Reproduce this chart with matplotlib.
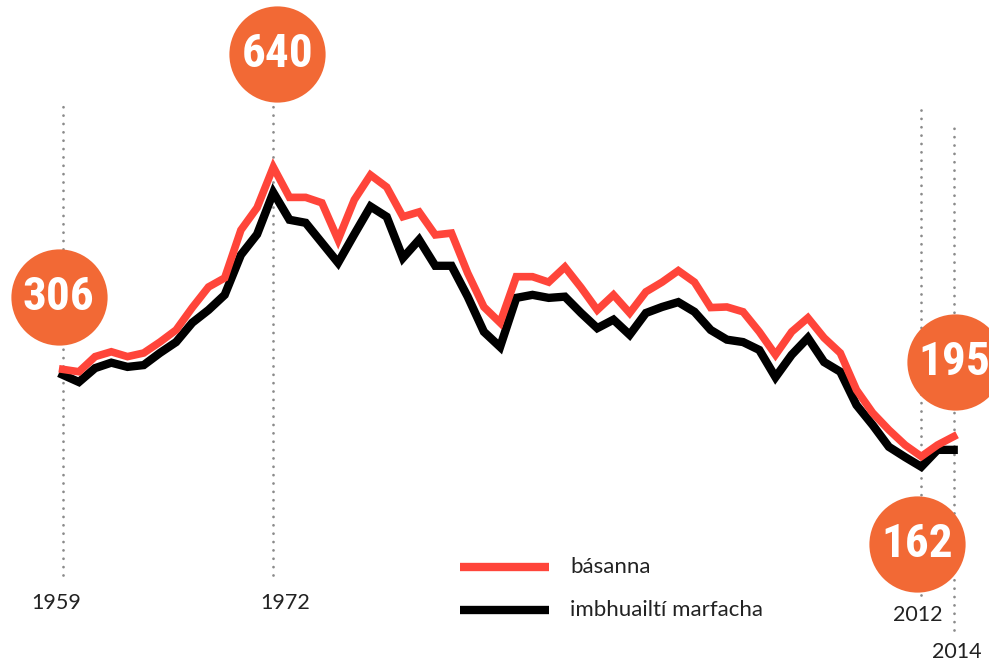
import matplotlib
matplotlib.use('Agg')
import matplotlib.pyplot as plt
from matplotlib.transforms import offset_copy
from matplotlib import font_manager
import numpy as np

years = list(range(1959, 2015))

# básanna (deaths)
deaths = [306, 302, 327, 335, 327, 333, 351, 371, 408, 442,
          457, 536, 573, 640, 590, 590, 581, 520, 586, 627,
          607, 558, 566, 528, 531, 465, 409, 383, 459, 459,
          450, 475, 441, 404, 429, 399, 434, 450, 469, 450,
          408, 409, 401, 368, 330, 368, 391, 358, 333, 272,
          234, 206, 181, 162, 181, 195]

# imbhuailtí marfacha (fatal collisions)
collisions = [297, 285, 308, 317, 310, 313, 333, 351, 383, 404,
              429, 495, 529, 598, 553, 548, 515, 482, 529, 575,
              558, 490, 520, 477, 477, 426, 368, 343, 424, 429,
              424, 426, 399, 374, 388, 363, 399, 409, 417, 401,
              371, 355, 351, 338, 293, 330, 358, 318, 302, 247,
              214, 178, 161, 145, 173, 173]

marked_years = [1959, 1972, 2012, 2014]
marked_labels = ['1959', '1972', '2012', '2014']

# circle callouts: year, value shown
callout_years = [1959, 1972, 2012, 2014]
callout_values = [306, 640, 162, 195]

red = '#FF453A'
orange = '#F26935'
dot_grey = '#8a8a8a'
text_col = '#222222'

# look for a narrow face for the circle numbers
names = {f.name for f in font_manager.fontManager.ttflist}
narrow = [n for n in ['Roboto Condensed', 'Open Sans Condensed', 'Liberation Sans Narrow',
                      'DejaVu Sans Condensed'] if n in names]
num_family = narrow + ['DejaVu Sans']
num_size = 34 if narrow else 25

fig = plt.figure(figsize=(9.89, 6.66), dpi=100)
ax = fig.add_axes([0, 0, 1, 1])
ax.set_xlim(1955.13, 2016.18)
ax.set_ylim(-184, 916)
ax.axis('off')

# dotted guide lines (ymin, ymax in axes fraction)
guides = {1959: (0.137, 0.842), 1972: (0.137, 0.842),
          2012: (0.107, 0.842), 2014: (0.054, 0.808)}
for yr in marked_years:
    lo, hi = guides[yr]
    ax.axvline(yr, ymin=lo, ymax=hi, color=dot_grey, lw=2,
               linestyle=(0, (0.01, 3)), dash_capstyle='round', zorder=1)

ax.plot(years, collisions, color='black', lw=6, solid_joinstyle='miter', zorder=3)
ax.plot(years, deaths, color=red, lw=5.5, solid_joinstyle='miter', zorder=4)

# year labels under the guides (pixel y from the top, x shift in pixels)
label_y = {1959: 603, 1972: 603, 2012: 615, 2014: 652}
label_dx = {1959: -6, 1972: 12, 2012: -4, 2014: 3}
for yr, lab in zip(marked_years, marked_labels):
    tr = offset_copy(ax.get_xaxis_transform(), fig=fig, x=label_dx[yr], y=0, units='dots')
    ax.text(yr, 1 - label_y[yr] / 666, lab, transform=tr,
            ha='center', va='center', fontsize=15.5, color=text_col,
            family=['Lato', 'DejaVu Sans'])

# orange circles with the values
circle_shift = {1959: (-4, 72), 1972: (4, 113), 2012: (-4, -87), 2014: (1, 75)}
for yr, val in zip(callout_years, callout_values):
    dx, dy = circle_shift[yr]
    tr = offset_copy(ax.transData, fig=fig, x=dx, y=dy, units='dots')
    yv = deaths[years.index(yr)]
    ax.scatter([yr], [yv], s=4800, color=orange, transform=tr, zorder=6,
               linewidths=0)
    ax.text(yr, yv, str(val), transform=tr, ha='center', va='center',
            fontsize=num_size, fontweight='bold', fontstretch='condensed',
            color='white', zorder=7, family=num_family)

# legend
ax.plot([460 / 989, 549 / 989], [1 - 567 / 666] * 2, color=red, lw=6,
        transform=ax.transAxes, solid_capstyle='butt')
ax.plot([460 / 989, 549 / 989], [1 - 610 / 666] * 2, color='black', lw=6,
        transform=ax.transAxes, solid_capstyle='butt')
ax.text(570 / 989, 1 - 567 / 666, 'básanna', transform=ax.transAxes,
        ha='left', va='center', fontsize=16, color=text_col,
        family=['Lato', 'DejaVu Sans'])
ax.text(570 / 989, 1 - 610 / 666, 'imbhuailtí marfacha', transform=ax.transAxes,
        ha='left', va='center', fontsize=16, color=text_col,
        family=['Lato', 'DejaVu Sans'])

fig.savefig('out.png', dpi=100, facecolor='white')
